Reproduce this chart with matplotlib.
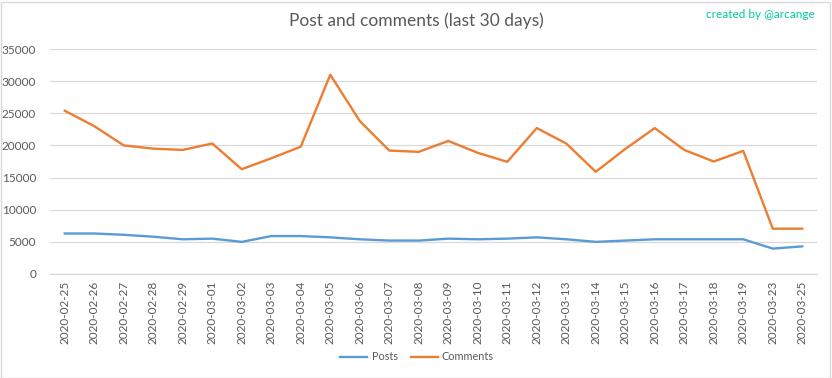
import matplotlib
matplotlib.use("Agg")
import matplotlib.pyplot as plt
from matplotlib.patches import Rectangle

dates = ["2020-02-25", "2020-02-26", "2020-02-27", "2020-02-28", "2020-02-29",
         "2020-03-01", "2020-03-02", "2020-03-03", "2020-03-04", "2020-03-05",
         "2020-03-06", "2020-03-07", "2020-03-08", "2020-03-09", "2020-03-10",
         "2020-03-11", "2020-03-12", "2020-03-13", "2020-03-14", "2020-03-15",
         "2020-03-16", "2020-03-17", "2020-03-18", "2020-03-19", "2020-03-23",
         "2020-03-25"]
posts = [6300, 6300, 6100, 5800, 5400, 5500, 5000, 5900, 5900, 5700,
         5400, 5200, 5200, 5500, 5400, 5500, 5700, 5400, 5000, 5200,
         5400, 5400, 5400, 5400, 3950, 4300]
comments = [25400, 23000, 20000, 19500, 19300, 20300, 16300, 18000, 19800, 31000,
            23800, 19200, 19000, 20700, 18850, 17450, 22700, 20300, 15900, 19450,
            22700, 19300, 17500, 19150, 7050, 7050]
yticks = [0, 5000, 10000, 15000, 20000, 25000, 30000, 35000]

plt.rcParams['font.family'] = ['Lato', 'DejaVu Sans']

fig = plt.figure(figsize=(8.32, 3.78), dpi=100)
ax = fig.add_axes([50/832, 1-274/378, (817-50)/832, (274-49)/378])

x = list(range(len(dates)))
ax.plot(x, posts, color="#5b9bd5", lw=1.7, label="Posts", solid_joinstyle="round")
ax.plot(x, comments, color="#ed7d31", lw=1.7, label="Comments", solid_joinstyle="round")

ax.set_xlim(-0.5, len(dates) - 0.5)
ax.set_ylim(0, 35000)
ax.set_yticks(yticks)
ax.set_yticklabels([str(v) for v in yticks])
ax.set_xticks(x)
ax.set_xticklabels(dates, rotation=90)
ax.tick_params(axis="both", length=0, colors="#595959", labelsize=8.5)
ax.tick_params(axis="y", pad=10)
ax.tick_params(axis="x", pad=5)
ax.grid(axis="y", color="#d9d9d9", lw=0.9)
ax.set_axisbelow(True)
for s in ["left", "right", "top"]:
    ax.spines[s].set_visible(False)
ax.spines["bottom"].set_color("#d9d9d9")
ax.spines["bottom"].set_linewidth(0.9)

fig.text(416/832, 1-21/378, "Post and comments (last 30 days)", ha="center", va="center",
         fontsize=12.5, color="#595959")
fig.text(815/832, 1-15/378, "created by @arcange", ha="right", va="center",
         fontsize=8.5, color="#00cc99")

fig.legend(loc="center", bbox_to_anchor=(417/832, 1-357/378), ncol=2, frameon=False,
           fontsize=7.8, labelcolor="#595959", handlelength=2.5, columnspacing=1.2,
           handletextpad=0.4)

fig.patches.append(Rectangle((0.5/832, 0.5/378), 829/832, 376/378, transform=fig.transFigure,
                             fill=False, edgecolor="#d9d9d9", lw=1))

fig.savefig("out.png", dpi=100, facecolor="white")
